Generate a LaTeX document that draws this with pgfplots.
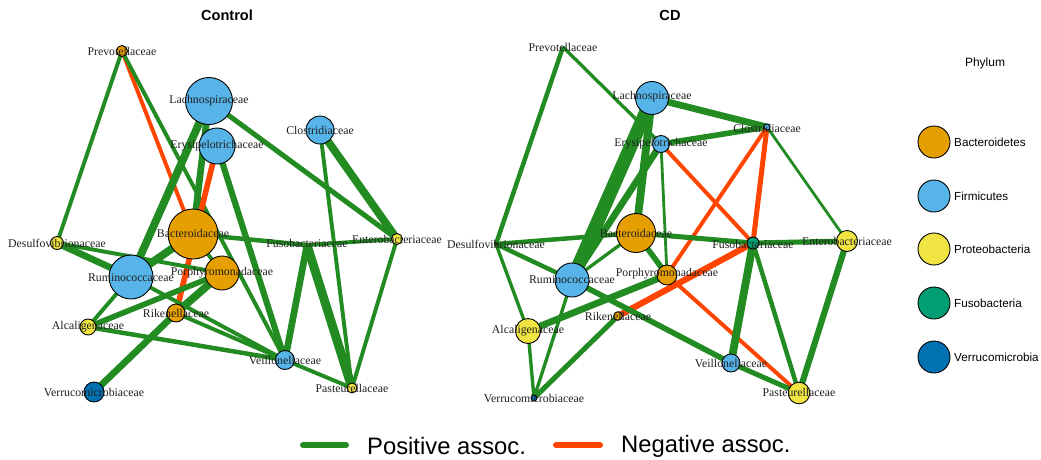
\documentclass[border=0pt]{standalone}
\usepackage{pgfplots}
\pgfplotsset{compat=1.18}
\usepackage{fontspec}
\setmainfont{Liberation Serif}
\newfontfamily\hv{Liberation Sans}
\definecolor{posg}{HTML}{228B22}
\definecolor{negr}{HTML}{FF4500}
\definecolor{cBac}{HTML}{E69F00}
\definecolor{cFir}{HTML}{56B4E9}
\definecolor{cPro}{HTML}{F0E442}
\definecolor{cFus}{HTML}{009E73}
\definecolor{cVer}{HTML}{0072B2}
\tikzset{lab/.style={font=\fontsize{11.8}{12}\selectfont, text=black!88, inner sep=0pt}}
\pgfplotsset{
 eg/.style={mark=none,line width=1.12*#1pt,color=posg},
 eo/.style={mark=none,line width=1.12*#1pt,color=negr},
 nd/.style 2 args={only marks,mark=*,mark size=#2pt,mark options={fill=#1,draw=black,line width=0.9pt}},
 base/.style={width=1041pt,height=459pt,scale only axis,xmin=0,xmax=1041,ymin=0,ymax=459,y dir=reverse,axis lines=none,clip=false},
}
\begin{document}
\begin{tikzpicture}
\begin{axis}[base]
\path (rel axis cs:0,0) rectangle (rel axis cs:1,1);
% ---------------- Control edges
\addplot[eg=3.5] coordinates {(122,51) (57,243)};
\addplot[eo=3.5] coordinates {(122,51) (193,234)};
\addplot[eg=3.5] coordinates {(122,51) (285,360)};
\addplot[eg=7] coordinates {(209,101) (131,277)};
\addplot[eg=6] coordinates {(209,101) (193,234)};
\addplot[eg=4.5] coordinates {(209,101) (397,239)};
\addplot[eo=5] coordinates {(217,146) (176,313)};
\addplot[eg=5.5] coordinates {(217,146) (285,360)};
\addplot[eg=7] coordinates {(320,130) (397,239)};
\addplot[eg=3.5] coordinates {(320,130) (352,388)};
\addplot[eg=7] coordinates {(193,234) (131,277)};
\addplot[eg=4] coordinates {(193,234) (307,245)};
\addplot[eg=3.5] coordinates {(193,234) (222,273)};
\addplot[eg=6] coordinates {(57,243) (131,277)};
\addplot[eg=3.5] coordinates {(57,243) (222,273)};
\addplot[eg=3.5] coordinates {(307,245) (397,239)};
\addplot[eg=6] coordinates {(307,245) (285,360)};
\addplot[eg=8] coordinates {(307,245) (352,388)};
\addplot[eg=3.5] coordinates {(397,239) (352,388)};
\addplot[eg=3.5] coordinates {(131,277) (285,360)};
\addplot[eg=3.5] coordinates {(131,277) (88,327)};
\addplot[eg=5] coordinates {(222,273) (88,327)};
\addplot[eg=7] coordinates {(222,273) (176,313)};
\addplot[eg=3.5] coordinates {(176,313) (285,360)};
\addplot[eg=6] coordinates {(176,313) (94,392)};
\addplot[eg=4] coordinates {(88,327) (285,360)};
\addplot[eg=3.5] coordinates {(285,360) (352,388)};
% ---------------- Control nodes
\addplot[nd={cBac}{5.5}] coordinates {(122,51)};
\addplot[nd={cFir}{23.5}] coordinates {(209,101)};
\addplot[nd={cFir}{18}] coordinates {(217,146)};
\addplot[nd={cFir}{14}] coordinates {(320,130)};
\addplot[nd={cBac}{25}] coordinates {(193,234)};
\addplot[nd={cPro}{6.5}] coordinates {(57,243)};
\addplot[nd={cPro}{5.5}] coordinates {(397,239)};
\addplot[nd={cFir}{22}] coordinates {(131,277)};
\addplot[nd={cBac}{17}] coordinates {(222,273)};
\addplot[nd={cBac}{9}] coordinates {(176,313)};
\addplot[nd={cPro}{8}] coordinates {(88,327)};
\addplot[nd={cFir}{9.5}] coordinates {(285,360)};
\addplot[nd={cPro}{5}] coordinates {(352,388)};
\addplot[nd={cVer}{10}] coordinates {(94,392)};
% ---------------- CD edges
\addplot[eg=4] coordinates {(563,47) (496,244)};
\addplot[eg=3] coordinates {(563,47) (661,144)};
\addplot[eg=6] coordinates {(652,98) (767,127)};
\addplot[eg=5] coordinates {(661,144) (767,127)};
\addplot[eg=12] coordinates {(652,98) (572,280)};
\addplot[eg=7] coordinates {(652,98) (636,233)};
\addplot[eg=6] coordinates {(661,144) (572,280)};
\addplot[eg=2.5] coordinates {(661,144) (667,275)};
\addplot[eo=3.5] coordinates {(661,144) (753,243)};
\addplot[eo=4.5] coordinates {(767,127) (753,243)};
\addplot[eo=3.5] coordinates {(767,127) (667,275)};
\addplot[eg=2.5] coordinates {(767,127) (847,241)};
\addplot[eg=4.5] coordinates {(753,243) (847,241)};
\addplot[eg=4.5] coordinates {(636,233) (753,243)};
\addplot[eo=5.5] coordinates {(753,243) (618,316)};
\addplot[eo=3.5] coordinates {(667,275) (799,393)};
\addplot[eg=7] coordinates {(753,243) (731,363)};
\addplot[eg=4] coordinates {(753,243) (799,393)};
\addplot[eg=5.5] coordinates {(847,241) (799,393)};
\addplot[eg=4.5] coordinates {(731,363) (799,393)};
\addplot[eg=5] coordinates {(572,280) (731,363)};
\addplot[eg=6] coordinates {(667,275) (528,331)};
\addplot[eg=3] coordinates {(636,233) (572,280)};
\addplot[eg=5] coordinates {(636,233) (667,275)};
\addplot[eg=4] coordinates {(496,244) (636,233)};
\addplot[eg=4] coordinates {(496,244) (572,280)};
\addplot[eg=3] coordinates {(496,244) (528,331)};
\addplot[eg=3] coordinates {(534,398) (528,331)};
\addplot[eg=4.5] coordinates {(534,398) (618,316)};
\addplot[eg=3] coordinates {(534,398) (572,280)};
% ---------------- CD nodes
\addplot[nd={cFir}{16.5}] coordinates {(652,98)};
\addplot[nd={cFir}{8.5}] coordinates {(661,144)};
\addplot[nd={cFir}{3}] coordinates {(767,127)};
\addplot[nd={cBac}{19.5}] coordinates {(636,233)};
\addplot[nd={cPro}{1.5}] coordinates {(496,244)};
\addplot[nd={cFus}{6}] coordinates {(753,243)};
\addplot[nd={cPro}{10.5}] coordinates {(847,241)};
\addplot[nd={cFir}{17}] coordinates {(572,280)};
\addplot[nd={cBac}{10}] coordinates {(667,275)};
\addplot[nd={cBac}{4.3}] coordinates {(618,316)};
\addplot[nd={cPro}{12.5}] coordinates {(528,331)};
\addplot[nd={cFir}{9}] coordinates {(731,363)};
\addplot[nd={cPro}{10.8}] coordinates {(799,393)};
\addplot[nd={cVer}{3}] coordinates {(534,398)};
% ---------------- Phylum legend
\addplot[nd={cBac}{16}] coordinates {(934,142)};
\addplot[nd={cFir}{16}] coordinates {(934,196)};
\addplot[nd={cPro}{16}] coordinates {(934,249)};
\addplot[nd={cFus}{16}] coordinates {(934,303)};
\addplot[nd={cVer}{16}] coordinates {(934,357)};
% ---------------- association legend
\addplot[mark=none,line width=6pt,color=posg,line cap=round] coordinates {(303,445) (346,445)};
\addplot[mark=none,line width=6pt,color=negr,line cap=round] coordinates {(556,445) (600,445)};
\end{axis}
\begin{axis}[base]
% ---------------- labels Control
\node[lab] at (axis cs:122,51) {Prevotellaceae};
\node[lab] at (axis cs:209,101) {Lachnospiraceae};
\node[lab] at (axis cs:217,146) {Erysipelotrichaceae};
\node[lab] at (axis cs:320,130) {Clostridiaceae};
\node[lab] at (axis cs:193,233) {Bacteroidaceae};
\node[lab] at (axis cs:57,243) {Desulfovibrionaceae};
\node[lab] at (axis cs:307,243) {Fusobacteriaceae};
\node[lab] at (axis cs:397,239) {Enterobacteriaceae};
\node[lab] at (axis cs:131,278) {Ruminococcaceae};
\node[lab] at (axis cs:222,273) {Porphyromonadaceae};
\node[lab] at (axis cs:176,313) {Rikenellaceae};
\node[lab] at (axis cs:88,327) {Alcaligenaceae};
\node[lab] at (axis cs:285,360) {Veillonellaceae};
\node[lab] at (axis cs:352,388) {Pasteurellaceae};
\node[lab] at (axis cs:94,392) {Verrucomicrobiaceae};
% ---------------- labels CD
\node[lab] at (axis cs:563,47) {Prevotellaceae};
\node[lab] at (axis cs:652,97) {Lachnospiraceae};
\node[lab] at (axis cs:661,144) {Erysipelotrichaceae};
\node[lab] at (axis cs:767,128) {Clostridiaceae};
\node[lab] at (axis cs:636,233) {Bacteroidaceae};
\node[lab] at (axis cs:496,244) {Desulfovibrionaceae};
\node[lab] at (axis cs:753,244) {Fusobacteriaceae};
\node[lab] at (axis cs:847,241) {Enterobacteriaceae};
\node[lab] at (axis cs:572,280) {Ruminococcaceae};
\node[lab] at (axis cs:667,274) {Porphyromonadaceae};
\node[lab] at (axis cs:618,316) {Rikenellaceae};
\node[lab] at (axis cs:528,331) {Alcaligenaceae};
\node[lab] at (axis cs:731,363) {Veillonellaceae};
\node[lab] at (axis cs:799,392) {Pasteurellaceae};
\node[lab] at (axis cs:534,398) {Verrucomicrobiaceae};
% ---------------- titles and legend text
\node[font=\hv\bfseries\fontsize{14.6}{16}\selectfont] at (axis cs:227,15) {Control};
\node[font=\hv\bfseries\fontsize{14.6}{16}\selectfont] at (axis cs:670,15) {CD};
\node[font=\hv\fontsize{12}{14}\selectfont] at (axis cs:985,63) {Phylum};
\node[font=\hv\fontsize{11.7}{14}\selectfont,anchor=west,inner sep=0pt] at (axis cs:954,142) {Bacteroidetes};
\node[font=\hv\fontsize{11.7}{14}\selectfont,anchor=west,inner sep=0pt] at (axis cs:954,196) {Firmicutes};
\node[font=\hv\fontsize{11.7}{14}\selectfont,anchor=west,inner sep=0pt] at (axis cs:954,249) {Proteobacteria};
\node[font=\hv\fontsize{11.7}{14}\selectfont,anchor=west,inner sep=0pt] at (axis cs:954,303) {Fusobacteria};
\node[font=\hv\fontsize{11.7}{14}\selectfont,anchor=west,inner sep=0pt] at (axis cs:954,357) {Verrucomicrobia};
\node[font=\hv\fontsize{23.8}{26}\selectfont,anchor=west,inner sep=0pt] at (axis cs:367,446) {Positive assoc.};
\node[font=\hv\fontsize{23.8}{26}\selectfont,anchor=west,inner sep=0pt] at (axis cs:621,446) {Negative assoc.};
\end{axis}
\end{tikzpicture}
\end{document}
